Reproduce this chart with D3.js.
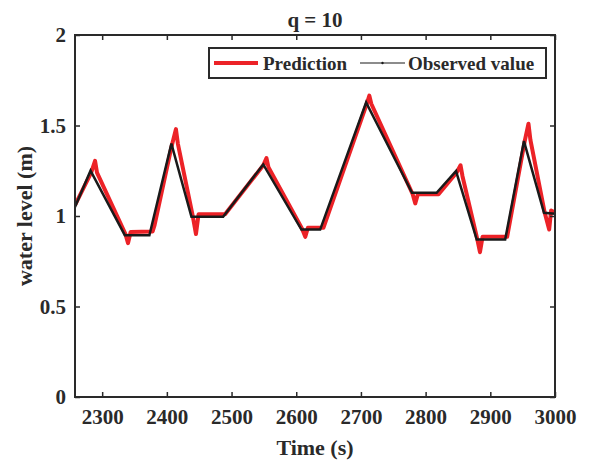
<!DOCTYPE html>
<html lang="en">
<head>
<meta charset="UTF-8">
<title>q = 10</title>
<script src="https://d3js.org/d3.v7.min.js"></script>
<style>
    body { margin: 0; background: #fff; }
    text { font-family: 'Liberation Serif', 'Times New Roman', serif; font-weight: bold; fill: #2a2a2a; }
</style>
</head>
<body>
<div id="chart"></div>
<script>
// observed water level (black line)
const obsTime  = [2258, 2282, 2335, 2373, 2407, 2438, 2487, 2549, 2608, 2637, 2708, 2779, 2817, 2847, 2879, 2923, 2952, 2983, 3000];
const obsLevel = [1.05, 1.25, 0.894, 0.894, 1.40, 0.996, 0.996, 1.285, 0.925, 0.925, 1.627, 1.128, 1.128, 1.248, 0.87, 0.87, 1.414, 1.018, 1.013];

// prediction (red line), with the overshoots at each corner
const predTime  = [2258, 2283, 2289, 2292, 2336, 2340, 2344, 2378, 2381, 2407, 2414, 2417, 2440, 2445, 2449, 2490,
                   2549, 2554, 2557, 2609, 2614, 2618, 2642, 2709, 2713, 2716, 2780, 2784, 2788, 2820,
                   2848, 2854, 2857, 2880, 2884, 2888, 2926, 2953, 2959, 2962, 2984, 2991, 2994, 3000];
const predLevel = [1.06, 1.24, 1.305, 1.24, 0.90, 0.85, 0.912, 0.915, 0.95, 1.38, 1.48, 1.40, 1.0, 0.90, 1.01, 1.01,
                   1.28, 1.32, 1.27, 0.93, 0.885, 0.935, 0.935, 1.62, 1.665, 1.62, 1.12, 1.07, 1.12, 1.12,
                   1.24, 1.28, 1.22, 0.87, 0.80, 0.885, 0.885, 1.41, 1.51, 1.42, 1.02, 0.925, 1.03, 1.02];

const xTicks = [2300, 2400, 2500, 2600, 2700, 2800, 2900, 3000];
const yTicks = [0, 0.5, 1, 1.5, 2];
const seriesNames = ['Prediction', 'Observed value'];

const W = 591, H = 466;
const margin = {top: 35, right: 36, bottom: 69, left: 75};
const width = W - margin.left - margin.right;
const height = H - margin.top - margin.bottom;
const ink = '#2a2a2a';

const svg = d3.select('#chart').append('svg')
    .attr('width', W).attr('height', H);
const g = svg.append('g').attr('transform', `translate(${margin.left},${margin.top})`);

const x = d3.scaleLinear().domain([2258, 3000]).range([0, width]);
const y = d3.scaleLinear().domain([0, 2]).range([height, 0]);

g.append('clipPath').attr('id', 'clip')
    .append('rect').attr('width', width).attr('height', height);

const line = d3.line().x(d => x(d[0])).y(d => y(d[1]));

const pred = predTime.map((t, i) => [t, predLevel[i]]);
const obs = obsTime.map((t, i) => [t, obsLevel[i]]);

g.append('path').datum(pred).attr('clip-path', 'url(#clip)')
    .attr('fill', 'none').attr('stroke', '#ec2227').attr('stroke-width', 4)
    .attr('stroke-linejoin', 'round').attr('d', line);
g.append('path').datum(obs).attr('clip-path', 'url(#clip)')
    .attr('fill', 'none').attr('stroke', '#1a1a1a').attr('stroke-width', 2.5)
    .attr('d', line);

// axes - ticks point inward like matlab
g.append('g').attr('transform', `translate(0,${height})`)
    .call(d3.axisBottom(x).tickValues(xTicks).tickSizeInner(-5).tickSizeOuter(0).tickPadding(12)
        .tickFormat(d3.format('d')));
g.append('g')
    .call(d3.axisLeft(y).tickValues(yTicks).tickSizeInner(-5).tickSizeOuter(0).tickPadding(9)
        .tickFormat(d3.format('')));
g.append('g')
    .call(d3.axisTop(x).tickValues(xTicks).tickSizeInner(-5).tickSizeOuter(0).tickFormat(''));
g.append('g').attr('transform', `translate(${width},0)`)
    .call(d3.axisRight(y).tickValues(yTicks).tickSizeInner(-5).tickSizeOuter(0).tickFormat(''));

g.selectAll('.domain').remove();
g.selectAll('.tick line').attr('stroke', ink).attr('stroke-width', 1.5);
g.selectAll('.tick text').style('font-size', '21px').attr('fill', ink);

g.append('rect').attr('width', width).attr('height', height)
    .attr('fill', 'none').attr('stroke', ink).attr('stroke-width', 2);

// titles
svg.append('text').attr('x', 315).attr('y', 27).attr('text-anchor', 'middle')
    .style('font-size', '21px').text('q = 10');
svg.append('text').attr('x', margin.left + width / 2).attr('y', 455).attr('text-anchor', 'middle')
    .style('font-size', '22px').text('Time (s)');
svg.append('text').attr('transform', `translate(32,${margin.top + height / 2}) rotate(-90)`)
    .attr('text-anchor', 'middle').style('font-size', '22px').text('water level (m)');

// legend
const leg = svg.append('g').attr('transform', 'translate(209,48)');
leg.append('rect').attr('width', 337).attr('height', 30)
    .attr('fill', '#fff').attr('stroke', ink).attr('stroke-width', 2);
leg.append('line').attr('x1', 5).attr('x2', 49).attr('y1', 15).attr('y2', 15)
    .attr('stroke', '#ec2227').attr('stroke-width', 4);
leg.append('text').attr('x', 54).attr('y', 21.5).style('font-size', '19px').text(seriesNames[0]);
leg.append('line').attr('x1', 151).attr('x2', 196).attr('y1', 15).attr('y2', 15)
    .attr('stroke', '#1a1a1a').attr('stroke-width', 1.2);
leg.append('circle').attr('cx', 173.5).attr('cy', 15).attr('r', 1.2).attr('fill', '#1a1a1a');
leg.append('text').attr('x', 199).attr('y', 21.5).style('font-size', '19px').text(seriesNames[1]);
</script>
</body>
</html>
